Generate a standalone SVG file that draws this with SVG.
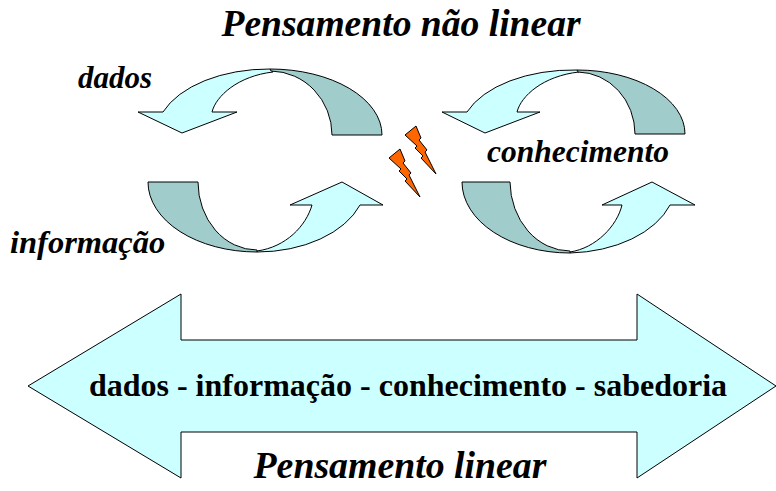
<svg xmlns="http://www.w3.org/2000/svg" width="776" height="491" viewBox="0 0 776 491">
<style>
.light{fill:#CCFFFF;stroke:#000;stroke-width:1;stroke-linejoin:round}
.dark{fill:#A0CCCC;stroke:#000;stroke-width:1;stroke-linejoin:round}
.bolt{fill:#FF6600;stroke:#000;stroke-width:1;stroke-linejoin:miter}
</style>
<defs>
<polygon id="boltShape" points="405,135 416,126 421,138 419,140 427,150 425,152 436,174 421,158 423,156 415,148 417,146"/>
</defs>
<rect width="776" height="491" fill="#fff"/>
<g id="linear-arrow">
<polygon class="light" points="28,386 181,294 181,340 637,340 637,294 776,386 637,478 637,432 181,432 181,478"/>
<text font-family="Liberation Serif, serif" font-weight="bold" x="408" y="396" font-size="32" text-anchor="middle">dados - informação - conhecimento - sabedoria</text>
</g>
<g id="cycle-top-left">
<path class="light" d="M270,69 A113,66 0 0 0 163,112 L138,112 L182,133 L237,112 L212,112 C216,96 238,76 273,72 Z"/>
<path class="dark" d="M270,69 A112,66 0 0 1 382,135 L332,135 A62,64 0 0 0 271,71 Z"/>
</g>
<g id="cycle-bottom-left">
<path class="light" d="M257,252 A109,70 0 0 0 360,205 L383,205 L342,182 L290,205 L312,205 C306,226 286,247 257,251 Z"/>
<path class="dark" d="M148,182 L198,182 A59,68 0 0 0 257,250 L257,252 A109,70 0 0 1 148,182 Z"/>
</g>
<g id="cycle-top-right">
<path class="light" d="M577,70 A113,64 0 0 0 467,112 L442,112 L485,133 L540,112 L517,112 C521,96 543,76 579,72 Z"/>
<path class="dark" d="M577,70 A108,64 0 0 1 685,134 L635,134 A58,62 0 0 0 578,72 Z"/>
</g>
<g id="cycle-bottom-right">
<path class="light" d="M570,253 A110,70 0 0 0 670,205 L695,205 L652,182 L602,205 L622,205 C617,226 596,248 570,252 Z"/>
<path class="dark" d="M462,182 L510,182 A60,70 0 0 0 570,251 L570,253 A108,71 0 0 1 462,182 Z"/>
</g>
<g id="lightning">
<use href="#boltShape" class="bolt"/>
<use href="#boltShape" class="bolt" transform="translate(-16,23)"/>
</g>
<g id="title">
<text font-family="Liberation Serif, serif" font-weight="bold" font-style="italic" x="401" y="36" font-size="37.6" text-anchor="middle">Pensamento não linear</text>
</g>
<g id="label-dados">
<text font-family="Liberation Serif, serif" font-weight="bold" font-style="italic" x="78" y="88" font-size="31">dados</text>
</g>
<g id="label-informacao">
<text font-family="Liberation Serif, serif" font-weight="bold" font-style="italic" x="10" y="253" font-size="32.5">informação</text>
</g>
<g id="label-conhecimento">
<text font-family="Liberation Serif, serif" font-weight="bold" font-style="italic" x="487" y="162" font-size="31.5">conhecimento</text>
</g>
<g id="subtitle">
<text font-family="Liberation Serif, serif" font-weight="bold" font-style="italic" x="400" y="478" font-size="37.8" text-anchor="middle">Pensamento linear</text>
</g>
</svg>
